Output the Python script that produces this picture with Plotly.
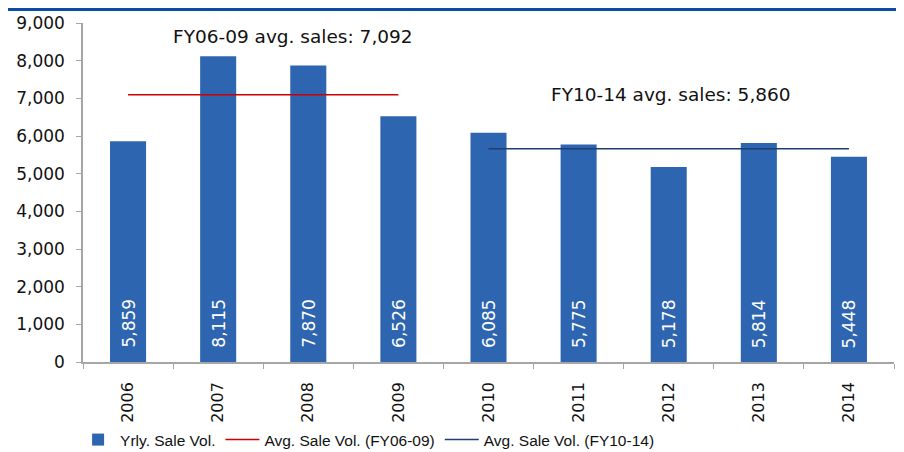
import plotly.graph_objects as go

years = [2006, 2007, 2008, 2009, 2010, 2011, 2012, 2013, 2014]
sales = [5859, 8115, 7870, 6526, 6085, 5775, 5178, 5814, 5448]
avg1_years = [2006, 2007, 2008, 2009]
avg1_vals = [7092, 7092, 7092, 7092]
avg2_years = [2010, 2011, 2012, 2013, 2014]
avg2_vals = [5660, 5660, 5660, 5660, 5660]
yticks = [0, 1000, 2000, 3000, 4000, 5000, 6000, 7000, 8000, 9000]

FONT = "DejaVu Sans"
fig = go.Figure()
fig.add_trace(go.Bar(x=years, y=sales, name="Yrly. Sale Vol.", width=0.4,
                     marker=dict(color="#2E65B0", line=dict(width=0))))
fig.add_trace(go.Scatter(x=avg1_years, y=avg1_vals, mode="lines", name="Avg. Sale Vol. (FY06-09)",
                         line=dict(color="#CC0000", width=1.5)))
fig.add_trace(go.Scatter(x=avg2_years, y=avg2_vals, mode="lines", name="Avg. Sale Vol. (FY10-14)",
                         line=dict(color="#1F3F73", width=1.5)))

annotations = []
for x, v in zip(years, sales):
    annotations.append(dict(x=x, y=0, text=f"{v:,}", showarrow=False, textangle=-90,
                            yanchor="bottom", yshift=12, font=dict(color="white", size=17, family=FONT)))
annotations.append(dict(x=2007.83, y=8630, text="FY06-09 avg. sales: 7,092",
                        showarrow=False, font=dict(size=18.5, family=FONT, color="#111")))
annotations.append(dict(x=2012.03, y=7090, text="FY10-14 avg. sales: 5,860",
                        showarrow=False, font=dict(size=18.5, family=FONT, color="#111")))

fig.update_layout(
    width=896, height=444,
    margin=dict(l=75, r=10, t=15, b=90, autoexpand=False),
    paper_bgcolor="white", plot_bgcolor="white",
    font=dict(family=FONT, size=17, color="#111"),
    annotations=annotations,
    showlegend=True,
    legend=dict(orientation="h", xref="container", x=0.076, xanchor="left", yref="container", y=0.027,
                yanchor="middle", bgcolor="rgba(0,0,0,0)",
                font=dict(size=15.5, family="Liberation Sans"), itemwidth=34,
                tracegroupgap=0),
    shapes=[dict(type="line", xref="paper", yref="paper", x0=-0.1, x1=1.02, y0=1.04, y1=1.04,
                 line=dict(color="#0B4DA2", width=3))],
)
bounds = [y - 0.5 for y in years] + [years[-1] + 0.5]
fig.update_xaxes(range=[2005.5, 2014.5], tickvals=years, ticktext=[str(y) for y in years],
                 tickangle=-90, showline=True, linecolor="#A6A6A6", linewidth=1.5, automargin=False,
                 ticks="", showgrid=False, zeroline=False, tickfont=dict(size=16), ticklabelstandoff=12,
                 minor=dict(tickvals=bounds, ticks="outside", ticklen=5, tickcolor="#A6A6A6", showgrid=False))
fig.update_yaxes(range=[0, 9000], tickvals=yticks, tickformat=",", showline=True, automargin=False,
                 linecolor="#A6A6A6", linewidth=1.5, ticks="outside", ticklen=5, tickcolor="#A6A6A6",
                 showgrid=False, zeroline=False, tickfont=dict(size=17), ticklabelstandoff=8)

fig.write_html("out.html")
